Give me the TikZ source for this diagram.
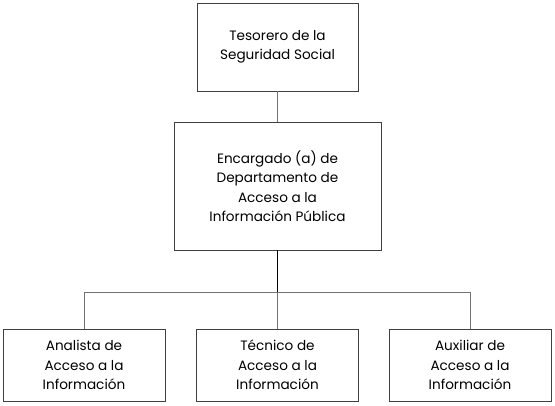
\documentclass[tikz,border=0pt]{standalone}
\usepackage{fontspec}
\setmainfont{Poppins}
\usepackage{tikz}
\usetikzlibrary{positioning,calc}

\begin{document}
\begin{tikzpicture}[
  x=1pt, y=-1pt,
  font=\fontsize{13.6}{19.5}\selectfont,
  box/.style={draw=black!75, line width=0.9pt, align=center, fill=white, inner sep=2pt},
  topbox/.style={box, minimum width=161pt, minimum height=88pt},
  midbox/.style={box, minimum width=207pt, minimum height=128pt},
  subbox/.style={box, minimum width=162pt, minimum height=72pt},
  link/.style={draw=black!55, line width=0.9pt},
  node distance=38pt and 31pt]

\useasboundingbox (0,0) rectangle (555,405);

% Row 1: head
\node[topbox] (tes) at (277.5,47) {Tesorero de la\\Seguridad Social};

% Row 2: department
\node[midbox] (enc) at (277.5,186) {Encargado (a) de\\Departamento de\\Acceso a la\\Información Pública};

% Row 3: staff
\node[subbox] (tec) at (277.5,365) {Técnico de\\Acceso a la\\Información};
\node[subbox] (ana) at (84,365) {Analista de\\Acceso a la\\Información};
\node[subbox] (aux) at (470,365) {Auxiliar de\\Acceso a la\\Información};

% Edges
\coordinate (bus) at (277.5,292);
\draw[link] (tes) -- (enc);
\draw[link, draw=black, line width=1.2pt] (enc) -- (bus);
\draw[link] (bus) -- (tec);
\draw[link] (bus) -| (ana.north);
\draw[link] (bus) -| (aux.north);
\end{tikzpicture}
\end{document}
